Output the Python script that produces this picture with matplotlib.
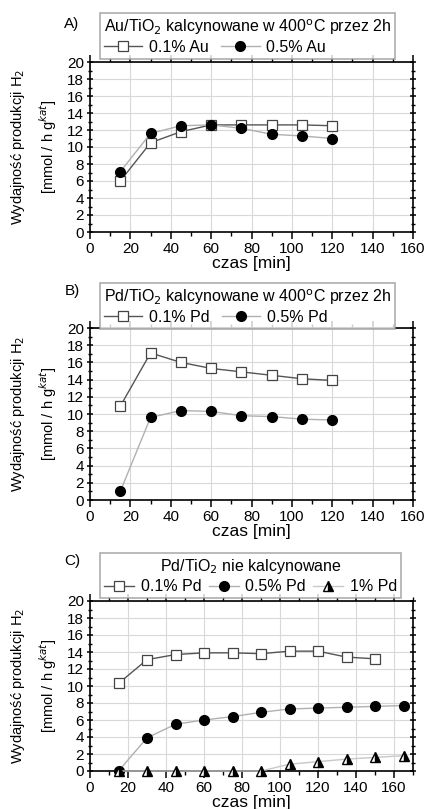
import matplotlib
matplotlib.use("Agg")
import matplotlib.pyplot as plt
from matplotlib.ticker import MultipleLocator

plt.rcParams['font.family'] = ['Liberation Sans', 'DejaVu Sans']

t_AB = [15, 30, 45, 60, 75, 90, 105, 120]
a_au01 = [6.0, 10.5, 11.8, 12.6, 12.6, 12.6, 12.6, 12.5]
a_au05 = [7.1, 11.6, 12.5, 12.6, 12.2, 11.5, 11.3, 11.0]
b_pd01 = [10.9, 17.1, 16.0, 15.3, 14.9, 14.5, 14.1, 13.9]
b_pd05 = [1.0, 9.6, 10.4, 10.3, 9.8, 9.7, 9.4, 9.3]
t_C01 = [15, 30, 45, 60, 75, 90, 105, 120, 135, 150]
c_pd01 = [10.3, 13.1, 13.7, 13.9, 13.9, 13.8, 14.1, 14.1, 13.4, 13.2]
t_C = [15, 30, 45, 60, 75, 90, 105, 120, 135, 150, 165]
c_pd05 = [0.0, 3.9, 5.5, 6.0, 6.4, 6.9, 7.3, 7.4, 7.5, 7.6, 7.7]
c_pd1 = [0.0, 0.0, 0.0, 0.0, 0.0, 0.0, 0.8, 1.1, 1.4, 1.6, 1.8]

titles = ["Au/TiO$_2$ kalcynowane w 400$^{\\rm o}$C przez 2h",
          "Pd/TiO$_2$ kalcynowane w 400$^{\\rm o}$C przez 2h",
          "Pd/TiO$_2$ nie kalcynowane"]
panel_labels = ["A)", "B)", "C)"]

W, H = 425, 809
fig = plt.figure(figsize=(W/100, H/100), dpi=100)

def rect(x0, y0, x1, y1):
    return [x0/W, 1 - y1/H, (x1-x0)/W, (y1-y0)/H]

axes_px = [(90, 62, 413, 232), (90, 328, 413, 500), (90, 601, 413, 771)]
xmax = [160, 160, 170]
leg_anchor = [(100, 13), (100, 283), (100, 553)]
leg_align = ['left', 'left', 'center']
leg_hlen = [2.4, 2.4, 1.9]
leg_cspace = [0.8, 0.8, 0.45]
lab_pos = [(72, 24), (72, 291), (72, 561)]

sq = dict(marker='s', markersize=6.5, markerfacecolor='white', markeredgecolor='#444444',
          color='#555555', lw=1.0, markeredgewidth=0.9)
ci = dict(marker='o', markersize=7, markerfacecolor='black', markeredgecolor='black',
          color='#b0b0b0', lw=1.0)
tr = dict(marker='^', markersize=7.5, markerfacecolor='black', markerfacecoloralt='white',
          fillstyle='right', markeredgecolor='black', color='#c8c8c8', lw=1.0)

series = [
    [(t_AB, a_au01, sq, "0.1% Au"), (t_AB, a_au05, ci, "0.5% Au")],
    [(t_AB, b_pd01, sq, "0.1% Pd"), (t_AB, b_pd05, ci, "0.5% Pd")],
    [(t_C01, c_pd01, sq, "0.1% Pd"), (t_C, c_pd05, ci, "0.5% Pd"), (t_C, c_pd1, tr, "1% Pd")],
]

for i in range(3):
    ax = fig.add_axes(rect(*axes_px[i]))
    handles = []
    for x, y, st, lab in series[i]:
        h, = ax.plot(x, y, label=lab, zorder=3, clip_on=False, **st)
        handles.append(h)
    ax.set_xlim(0, xmax[i])
    ax.set_ylim(0, 20)
    ax.xaxis.set_major_locator(MultipleLocator(20))
    ax.xaxis.set_minor_locator(MultipleLocator(10))
    ax.yaxis.set_major_locator(MultipleLocator(2))
    ax.yaxis.set_minor_locator(MultipleLocator(1))
    ax.grid(True, which='major', color='#d8d8d8', lw=0.8)
    ax.set_axisbelow(True)
    for s in ax.spines.values():
        s.set_linewidth(1.2)
    ax.tick_params(axis='x', which='both', direction='out', top=True, labelsize=11, pad=2)
    ax.tick_params(axis='y', which='both', direction='inout', right=True, labelsize=11, pad=2)
    ax.tick_params(which='major', length=5, width=1.1)
    ax.tick_params(which='minor', length=3, width=1.0)
    ax.set_xlabel("czas [min]", fontsize=12.5, labelpad=0)
    ax.text(-0.223, 0.5, "Wydajność produkcji H$_2$", rotation=90, transform=ax.transAxes,
            ha='center', va='center', fontsize=10.5)
    ax.text(-0.13, 0.5, "[mmol / h g$^{kat}$]", rotation=90, transform=ax.transAxes,
            ha='center', va='center', fontsize=10.5)
    lx0, ly0 = leg_anchor[i]
    leg = fig.legend(handles=handles, title=titles[i], ncol=len(handles), loc='upper left',
                     bbox_to_anchor=(lx0/W, 1 - ly0/H), fontsize=11.5, title_fontsize=11.5,
                     frameon=True, fancybox=False, edgecolor='#999999', handlelength=leg_hlen[i],
                     handletextpad=0.4, columnspacing=leg_cspace[i], borderpad=0.25,
                     labelspacing=0.2, borderaxespad=0, alignment=leg_align[i])
    leg.get_frame().set_linewidth(1.2)
    lx, ly = lab_pos[i]
    fig.text(lx/W, 1 - ly/H, panel_labels[i], fontsize=11, ha='center', va='center')

fig.savefig("out.png", dpi=100)
